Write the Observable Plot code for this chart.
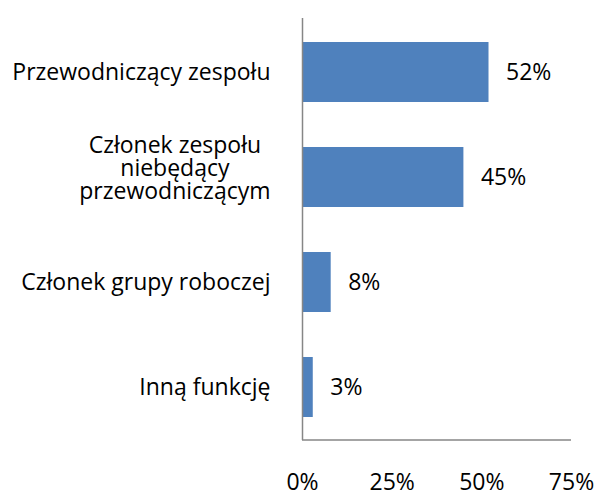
<!DOCTYPE html>
<html>
<head>
<meta charset="utf-8">
<script src="https://cdn.jsdelivr.net/npm/d3@7"></script>
<script src="https://cdn.jsdelivr.net/npm/@observablehq/plot@0.6"></script>
<style>
  html, body { margin: 0; padding: 0; background: #fff; }
  #chart { width: 595px; height: 491px; }
</style>
</head>
<body>
<div id="chart"></div>
<script>
const categories = [
  "Przewodniczący zespołu",
  "Członek zespołu\nniebędący\nprzewodniczącym",
  "Członek grupy roboczej",
  "Inną funkcję"
];
const values = [52, 45, 8, 3];
const xTicks = [0, 25, 50, 75];

const data = categories.map((c, i) => ({category: c, value: values[i]}));
const FONT = "Open Sans";
const FS = 23;
const barColor = "#4F81BD";
const axisColor = "#868686";

const ctx = document.createElement("canvas").getContext("2d");
ctx.font = `${FS}px "${FONT}"`;
const blockWidth = s => Math.max(...s.split("\n").map(l => ctx.measureText(l).width));
const labelGap = 32;

const single = data.filter(d => !d.category.includes("\n"));
const multi = data.filter(d => d.category.includes("\n"));

const bottomLine = (index, scales, values, dims) => {
  const g = d3.create("svg:g");
  const yb = dims.height - dims.marginBottom;
  g.append("line")
    .attr("x1", scales.x(xTicks[0])).attr("x2", scales.x(xTicks[xTicks.length - 1]))
    .attr("y1", yb).attr("y2", yb)
    .attr("stroke", axisColor).attr("stroke-width", 1.5);
  return g.node();
};

const chart = Plot.plot({
  width: 595,
  height: 491,
  marginLeft: 302,
  marginRight: 24,
  marginTop: 18,
  marginBottom: 51,
  style: {fontFamily: FONT, fontSize: FS + "px", color: "#000", background: "#fff", overflow: "visible"},
  x: {domain: [0, 75], ticks: xTicks, tickFormat: d => d + "%", tickSize: 0, tickPadding: 33, label: null},
  y: {domain: categories, paddingInner: 0.43, paddingOuter: 0.215, axis: null},
  marks: [
    Plot.barX(data, {x: "value", y: "category", fill: barColor}),
    Plot.text(data, {x: "value", y: "category", text: d => d.value + "%", textAnchor: "start", dx: 17, fill: "#000", fontSize: FS}),
    Plot.text(single, {x: 0, y: "category", text: "category", textAnchor: "end", dx: -labelGap, fill: "#000", fontSize: FS}),
    ...multi.map(d => Plot.text([d], {x: 0, y: "category", text: "category", textAnchor: "middle", lineAnchor: "middle", lineHeight: 1.02, dx: -(labelGap + blockWidth(d.category) / 2), dy: -9, fill: "#000", fontSize: FS})),
    Plot.ruleX([0], {stroke: axisColor, strokeWidth: 1.5}),
    bottomLine
  ]
});
document.getElementById("chart").appendChild(chart);
</script>
</body>
</html>
